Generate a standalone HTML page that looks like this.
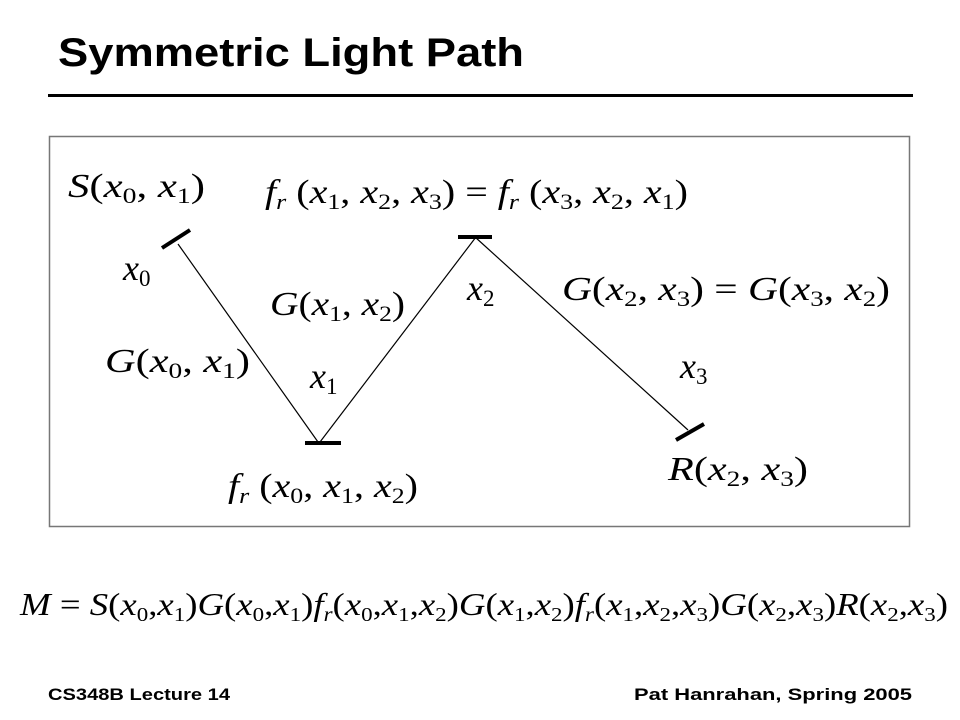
<!DOCTYPE html>
<html><head><meta charset="utf-8"><style>
html,body{margin:0;padding:0;background:#fff;}
svg{display:block}
.t{font-family:"Liberation Sans",sans-serif;font-weight:bold;}
.m{font-family:"Liberation Serif",serif;font-size:34px;fill:#000}
.m .i{font-style:italic}
</style></head><body>
<svg width="960" height="720" viewBox="0 0 960 720" xmlns="http://www.w3.org/2000/svg">
<text x="58" y="66" class="t" font-size="40" textLength="466" lengthAdjust="spacingAndGlyphs">Symmetric Light Path</text>
<rect x="48" y="94" width="865" height="3" fill="#000"/>
<rect x="49.5" y="136.5" width="860" height="390" fill="none" stroke="#777" stroke-width="1.5"/>
<g stroke="#000" fill="none">
<line x1="178" y1="244" x2="318" y2="442" stroke-width="1.2"/>
<line x1="320" y1="442" x2="476" y2="237" stroke-width="1.2"/>
<line x1="475" y1="237" x2="688" y2="430" stroke-width="1.2"/>
<line x1="162" y1="248" x2="190" y2="230" stroke-width="4"/>
<line x1="305" y1="443" x2="341" y2="443" stroke-width="4"/>
<line x1="458" y1="237" x2="492" y2="237" stroke-width="4"/>
<line x1="676" y1="440" x2="704" y2="424" stroke-width="4"/>
</g>
<g class="m">
<text x="68" y="197" textLength="137" lengthAdjust="spacingAndGlyphs"><tspan class="i">S</tspan>(<tspan class="i">x</tspan><tspan font-size="22" dy="6">0</tspan><tspan dy="-6">, </tspan><tspan class="i">x</tspan><tspan font-size="22" dy="6">1</tspan><tspan dy="-6">)</tspan></text>
<text x="265" y="203" textLength="423" lengthAdjust="spacingAndGlyphs"><tspan class="i">f</tspan><tspan class="i" font-size="22" dy="6">r</tspan><tspan dy="-6"> (</tspan><tspan class="i">x</tspan><tspan font-size="22" dy="6">1</tspan><tspan dy="-6">, </tspan><tspan class="i">x</tspan><tspan font-size="22" dy="6">2</tspan><tspan dy="-6">, </tspan><tspan class="i">x</tspan><tspan font-size="22" dy="6">3</tspan><tspan dy="-6">) = </tspan><tspan class="i">f</tspan><tspan class="i" font-size="22" dy="6">r</tspan><tspan dy="-6"> (</tspan><tspan class="i">x</tspan><tspan font-size="22" dy="6">3</tspan><tspan dy="-6">, </tspan><tspan class="i">x</tspan><tspan font-size="22" dy="6">2</tspan><tspan dy="-6">, </tspan><tspan class="i">x</tspan><tspan font-size="22" dy="6">1</tspan><tspan dy="-6">)</tspan></text>
<text x="123" y="280" font-size="36"><tspan class="i">x</tspan><tspan font-size="23" dy="6">0</tspan></text>
<text x="270" y="315" textLength="135" lengthAdjust="spacingAndGlyphs"><tspan class="i">G</tspan>(<tspan class="i">x</tspan><tspan font-size="22" dy="6">1</tspan><tspan dy="-6">, </tspan><tspan class="i">x</tspan><tspan font-size="22" dy="6">2</tspan><tspan dy="-6">)</tspan></text>
<text x="467" y="300" font-size="36"><tspan class="i">x</tspan><tspan font-size="23" dy="6">2</tspan></text>
<text x="562" y="300" textLength="328" lengthAdjust="spacingAndGlyphs"><tspan class="i">G</tspan>(<tspan class="i">x</tspan><tspan font-size="22" dy="6">2</tspan><tspan dy="-6">, </tspan><tspan class="i">x</tspan><tspan font-size="22" dy="6">3</tspan><tspan dy="-6">) = </tspan><tspan class="i">G</tspan>(<tspan class="i">x</tspan><tspan font-size="22" dy="6">3</tspan><tspan dy="-6">, </tspan><tspan class="i">x</tspan><tspan font-size="22" dy="6">2</tspan><tspan dy="-6">)</tspan></text>
<text x="105" y="372" textLength="145" lengthAdjust="spacingAndGlyphs"><tspan class="i">G</tspan>(<tspan class="i">x</tspan><tspan font-size="22" dy="6">0</tspan><tspan dy="-6">, </tspan><tspan class="i">x</tspan><tspan font-size="22" dy="6">1</tspan><tspan dy="-6">)</tspan></text>
<text x="310" y="388" font-size="36"><tspan class="i">x</tspan><tspan font-size="23" dy="6">1</tspan></text>
<text x="680" y="378" font-size="36"><tspan class="i">x</tspan><tspan font-size="23" dy="6">3</tspan></text>
<text x="228" y="497" textLength="190" lengthAdjust="spacingAndGlyphs"><tspan class="i">f</tspan><tspan class="i" font-size="22" dy="6">r</tspan><tspan dy="-6"> (</tspan><tspan class="i">x</tspan><tspan font-size="22" dy="6">0</tspan><tspan dy="-6">, </tspan><tspan class="i">x</tspan><tspan font-size="22" dy="6">1</tspan><tspan dy="-6">, </tspan><tspan class="i">x</tspan><tspan font-size="22" dy="6">2</tspan><tspan dy="-6">)</tspan></text>
<text x="668" y="480" textLength="140" lengthAdjust="spacingAndGlyphs"><tspan class="i">R</tspan>(<tspan class="i">x</tspan><tspan font-size="22" dy="6">2</tspan><tspan dy="-6">, </tspan><tspan class="i">x</tspan><tspan font-size="22" dy="6">3</tspan><tspan dy="-6">)</tspan></text>
<text x="20" y="615" font-size="32" textLength="928" lengthAdjust="spacingAndGlyphs"><tspan class="i">M</tspan> = <tspan class="i">S</tspan>(<tspan class="i">x</tspan><tspan font-size="20" dy="6">0</tspan><tspan dy="-6">,</tspan><tspan class="i">x</tspan><tspan font-size="20" dy="6">1</tspan><tspan dy="-6">)</tspan><tspan class="i">G</tspan>(<tspan class="i">x</tspan><tspan font-size="20" dy="6">0</tspan><tspan dy="-6">,</tspan><tspan class="i">x</tspan><tspan font-size="20" dy="6">1</tspan><tspan dy="-6">)</tspan><tspan class="i">f</tspan><tspan class="i" font-size="20" dy="6">r</tspan><tspan dy="-6">(</tspan><tspan class="i">x</tspan><tspan font-size="20" dy="6">0</tspan><tspan dy="-6">,</tspan><tspan class="i">x</tspan><tspan font-size="20" dy="6">1</tspan><tspan dy="-6">,</tspan><tspan class="i">x</tspan><tspan font-size="20" dy="6">2</tspan><tspan dy="-6">)</tspan><tspan class="i">G</tspan>(<tspan class="i">x</tspan><tspan font-size="20" dy="6">1</tspan><tspan dy="-6">,</tspan><tspan class="i">x</tspan><tspan font-size="20" dy="6">2</tspan><tspan dy="-6">)</tspan><tspan class="i">f</tspan><tspan class="i" font-size="20" dy="6">r</tspan><tspan dy="-6">(</tspan><tspan class="i">x</tspan><tspan font-size="20" dy="6">1</tspan><tspan dy="-6">,</tspan><tspan class="i">x</tspan><tspan font-size="20" dy="6">2</tspan><tspan dy="-6">,</tspan><tspan class="i">x</tspan><tspan font-size="20" dy="6">3</tspan><tspan dy="-6">)</tspan><tspan class="i">G</tspan>(<tspan class="i">x</tspan><tspan font-size="20" dy="6">2</tspan><tspan dy="-6">,</tspan><tspan class="i">x</tspan><tspan font-size="20" dy="6">3</tspan><tspan dy="-6">)</tspan><tspan class="i">R</tspan>(<tspan class="i">x</tspan><tspan font-size="20" dy="6">2</tspan><tspan dy="-6">,</tspan><tspan class="i">x</tspan><tspan font-size="20" dy="6">3</tspan><tspan dy="-6">)</tspan></text>
</g>
<text x="48" y="700" class="t" font-size="17" textLength="182" lengthAdjust="spacingAndGlyphs">CS348B Lecture 14</text>
<text x="634" y="700" class="t" font-size="17" textLength="278" lengthAdjust="spacingAndGlyphs">Pat Hanrahan, Spring 2005</text>
</svg>
</body></html>
